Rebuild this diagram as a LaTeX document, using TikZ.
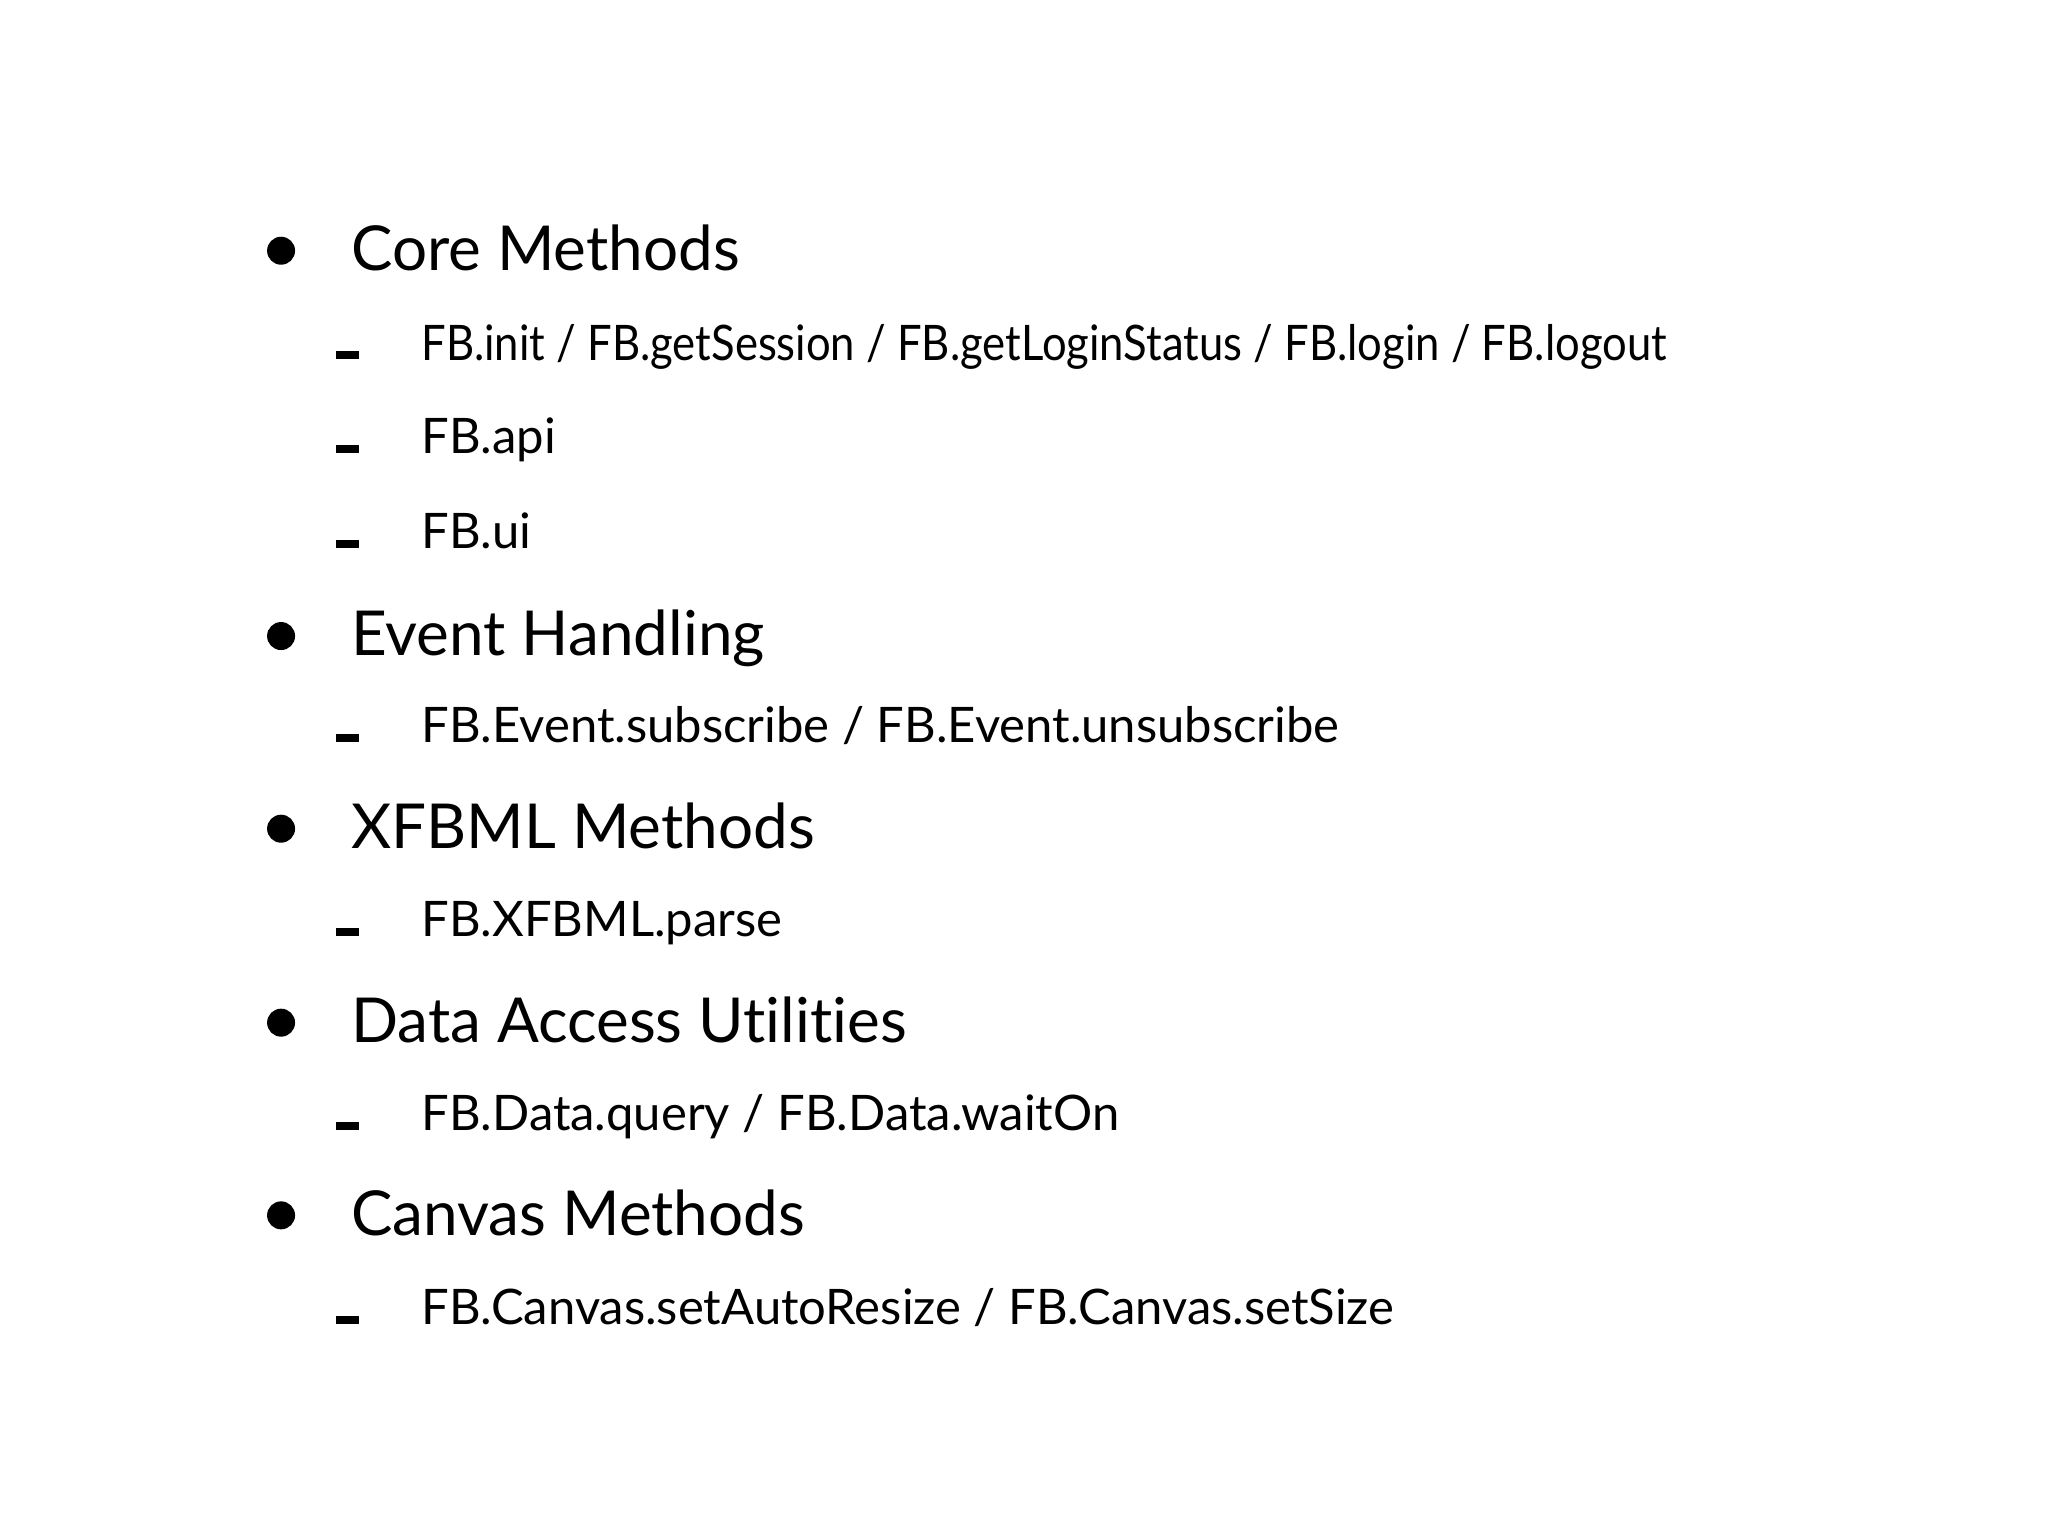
\documentclass[tikz,border=0pt]{standalone}
\usepackage{fontspec}
\setmainfont{Lato}[Ligatures={NoCommon}]
\begin{document}
\begin{tikzpicture}[x=0.66pt,y=-0.66pt,
  main/.style={anchor=base west,inner sep=0pt,font=\fontsize{31}{34}\selectfont},
  sub/.style={anchor=base west,inner sep=0pt,font=\fontsize{24.5}{28}\selectfont},
  dot/.style={fill=black,circle,inner sep=0pt,minimum size=14pt},
  bar/.style={fill=black}]
\useasboundingbox (0,0) rectangle (1552,1164);
\foreach \y/\t [count=\i] in {205/Core Methods,497/Event Handling,643/XFBML Methods,790/Data Access Utilities,936/Canvas Methods}{
  \node[dot] (b\i) at (213,\y-15) {};
  \node[main] (m\i) at (266,\y) {\t};
}
\foreach \y/\t [count=\i] in {273/{\scalebox{0.89}[1]{FB.init / FB.getSession / FB.getLoginStatus / FB.login / FB.logout}},344/{FB.api},416/{FB.ui},563/{FB.Event.subscribe / FB.Event.unsubscribe},710/{FB.XFBML.parse},857/{FB.Data.query / FB.Data.waitOn},1004/{FB.Canvas.setAutoResize / FB.Canvas.setSize}}{
  \fill[bar] (255,\y-7) rectangle (272,\y-1);
  \node[sub] (s\i) at (319,\y) {\t};
}
\end{tikzpicture}
\end{document}
